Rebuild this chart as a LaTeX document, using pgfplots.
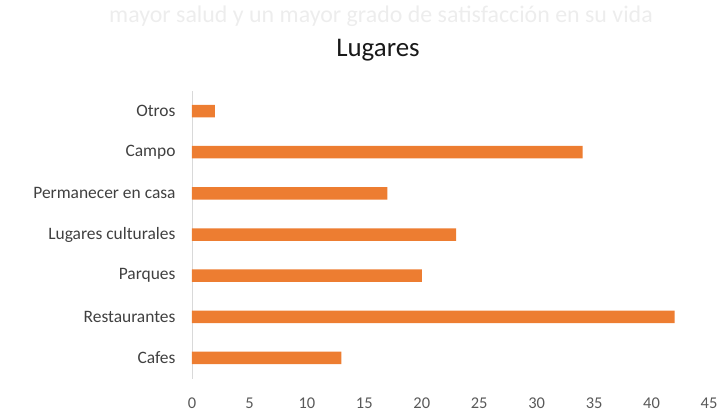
\documentclass[border=0pt]{standalone}
\usepackage{pgfplots}
\pgfplotsset{compat=1.18}
\usepackage{fontspec}
\setmainfont{Carlito}
\definecolor{barorange}{HTML}{ED7D31}
\definecolor{axgray}{HTML}{D9D9D9}
\definecolor{lblgray}{HTML}{404040}
\definecolor{tickgray}{HTML}{595959}
\begin{document}
\begin{tikzpicture}
\path[use as bounding box] (-192bp,-40.5bp) rectangle (527bp,378.5bp);
\begin{axis}[
  at={(0,0)}, anchor=south west,
  scale only axis,
  width=517bp, height=288bp,
  xbar, bar width=12.5bp,
  xmin=0, xmax=45,
  ymin=-0.5, ymax=6.5,
  xtick={0,5,...,45},
  ytick={0,1,2,3,4,5,6},
  yticklabels={Cafes,Restaurantes,Parques,Lugares culturales,Permanecer en casa,Campo,Otros},
  axis lines*=left,
  y axis line style={draw=axgray, line width=0.8pt, -},
  x axis line style={draw=none, -},
  major tick length=0pt,
  /pgf/number format/assume math mode=true,
  xticklabel style={font=\fontsize{16.5}{18}\selectfont, text=tickgray, yshift=-16bp},
  yticklabel style={font=\fontsize{17.5}{19}\selectfont, text=lblgray, xshift=-13bp},
  xticklabels={0,5,10,15,20,25,30,35,40,45},
  clip=false,
]
\addplot[draw=none, fill=barorange] coordinates {
  (13,0) (42,1) (20,2) (23,3) (17,4) (34,5) (2,6)
};
\end{axis}
\node[font=\fontsize{27}{30}\selectfont, text=black!90] at (186bp,328.5bp) {Lugares};
\node[font=\fontsize{24}{26}\selectfont, text=black!7] at (189bp,362bp) {mayor salud y un mayor grado de satisfacción en su vida};
\end{tikzpicture}
\end{document}
